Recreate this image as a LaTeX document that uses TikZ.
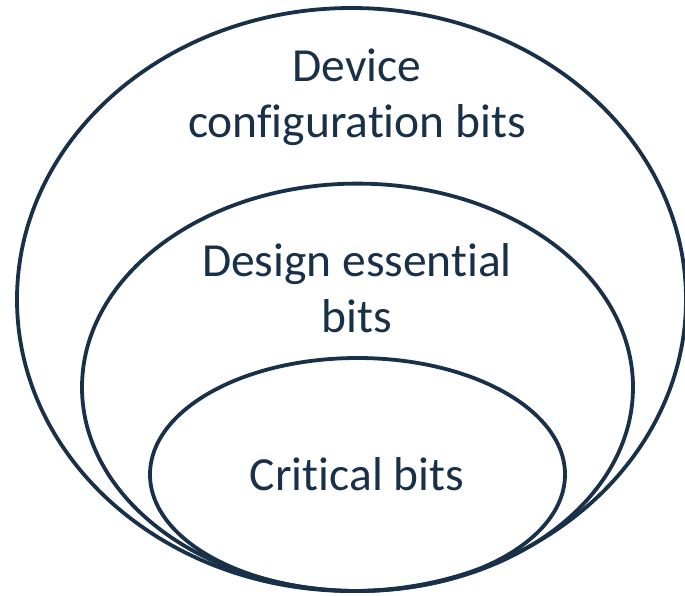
\documentclass[tikz,border=0pt]{standalone}
\usepackage{fontspec}
\setmainfont[RawFeature=-liga]{Carlito}
\definecolor{navy}{RGB}{24,48,72}
\begin{document}
\begin{tikzpicture}[x=1pt,y=-1pt,
  ring/.style={draw=navy,line width=3.8pt},
  lbl/.style={text=navy,font=\fontsize{47.5}{56}\selectfont,align=center,inner sep=0pt,anchor=base}]
\useasboundingbox (0,0) rectangle (685,595);
\draw[ring] (351.5,299.5) ellipse [x radius=334.5, y radius=291.5];
\draw[ring] (357.5,387.3) ellipse [x radius=275.5, y radius=203.7];
\draw[ring] (357.5,474.5) ellipse [x radius=207.5, y radius=116.5];
\node[lbl] (dev) at (357,137) {Device\\configuration bits};
\node[lbl] (des) at (357,332) {Design essential\\bits};
\node[lbl] (crit) at (357,490) {Critical bits};
\end{tikzpicture}
\end{document}
